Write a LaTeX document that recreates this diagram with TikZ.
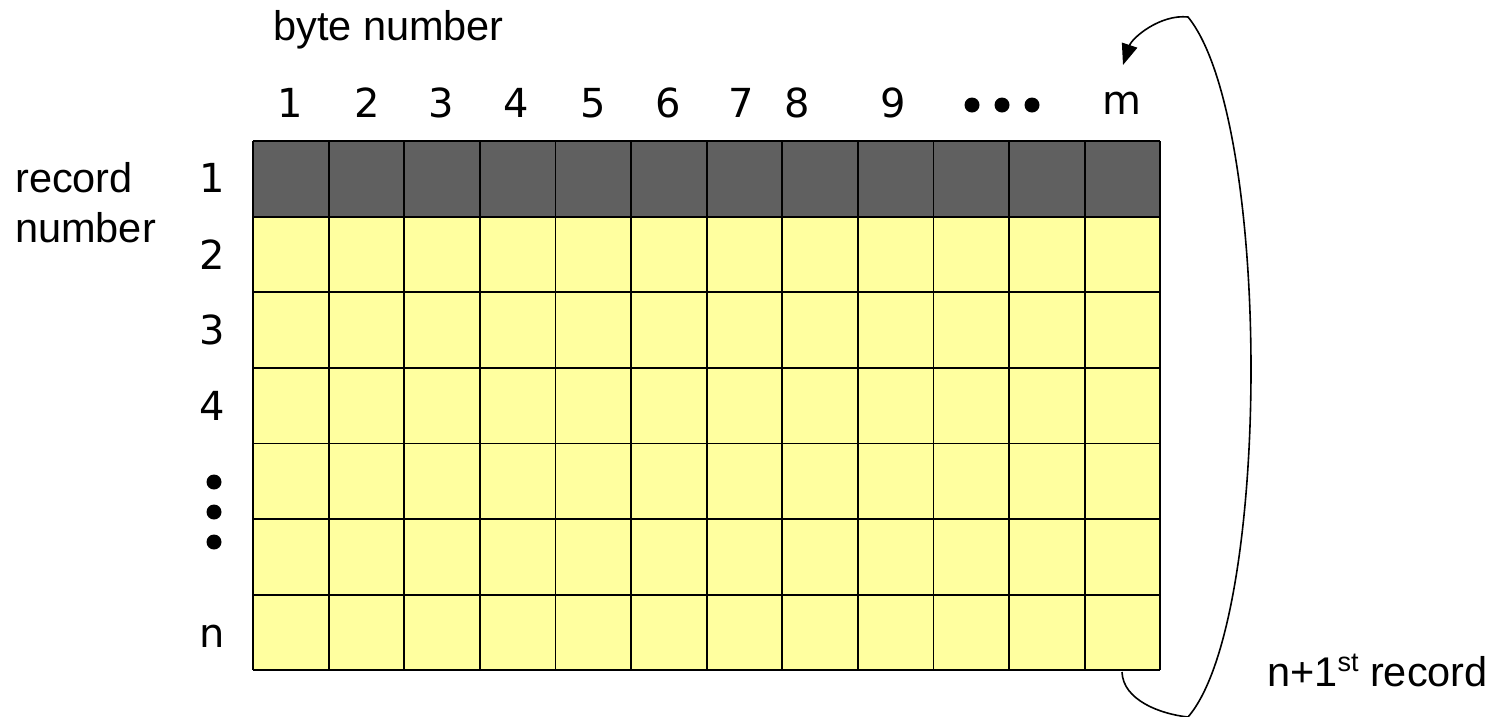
\documentclass[tikz,border=0pt]{standalone}
\usepackage{fontspec}
\setmainfont{Liberation Sans}
\newfontfamily\dig{DejaVu Sans}
\usetikzlibrary{arrows.meta}
\definecolor{cellyellow}{HTML}{FFFF9F}
\definecolor{cellgray}{HTML}{606060}
\begin{document}
\begin{tikzpicture}[x=1pt,y=-1pt,
  word/.style={font=\fontsize{41.5}{49}\selectfont, inner sep=0pt, anchor=base west},
  lab/.style={font=\dig\fontsize{40}{48}\selectfont, inner sep=0pt},
  dotmark/.style={circle, fill=black, inner sep=0pt, minimum size=15pt},
  gridline/.style={line width=1.8pt, draw=black},
  conn/.style={line width=1.6pt, -{Triangle[length=21pt,width=16pt]}}]
\useasboundingbox (0,0) rectangle (1497,716);
% cells
\def\xo{253}\def\yo{141}\def\dd{75.6}
\fill[cellyellow] (\xo,\yo+\dd) rectangle (\xo+12*\dd,\yo+7*\dd);
\fill[cellgray] (\xo,\yo) rectangle (\xo+12*\dd,\yo+\dd);
\foreach \i in {0,...,12} \draw[gridline] (\xo+\i*\dd,\yo) -- (\xo+\i*\dd,\yo+7*\dd);
\foreach \j in {0,...,7} \draw[gridline] (\xo,\yo+\j*\dd) -- (\xo+12*\dd,\yo+\j*\dd);
% titles
\node[word] (bytenum) at (273,40) {byte number};
\node[word] (rec) at (15,192) {record};
\node[word] (num) at (15,242) {number};
\node[word] (nplus) at (1267,686) {n+1\raisebox{0.36em}{\fontsize{27}{27}\selectfont st} record};
% column labels
\node[lab] (c1) at (290,103) {1};
\node[lab] (c2) at (367,103) {2};
\node[lab] (c3) at (441,103) {3};
\node[lab] (c4) at (516,103) {4};
\node[lab] (c5) at (593,103) {5};
\node[lab] (c6) at (668,103) {6};
\node[lab] (c7) at (741,103) {7};
\node[lab] (c8) at (797,103) {8};
\node[lab] (c9) at (893,103) {9};
\node[dotmark] (cd1) at (972,105) {};
\node[dotmark] (cd2) at (1002,105) {};
\node[dotmark] (cd3) at (1032,105) {};
\node[lab] (cm) at (1122,103) {m};
% row labels
\node[lab] (r1) at (212,178) {1};
\node[lab] (r2) at (212,255) {2};
\node[lab] (r3) at (212,330) {3};
\node[lab] (r4) at (212,406) {4};
\node[dotmark] (rd1) at (214,482) {};
\node[dotmark] (rd2) at (214,512) {};
\node[dotmark] (rd3) at (214,542) {};
\node[lab] (rn) at (212,636) {n};
% connector
\coordinate (from) at (1122,672);
\coordinate (low) at (1188,717);
\coordinate (high) at (1188,17);
\coordinate (tip) at (1123,65);
\draw[conn] (from) .. controls (1123,700) and (1160,714) .. (low)
  .. controls (1272,620) and (1272,120) .. (high)
  .. controls (1160,14) and (1132,38) .. (tip);
\end{tikzpicture}
\end{document}
